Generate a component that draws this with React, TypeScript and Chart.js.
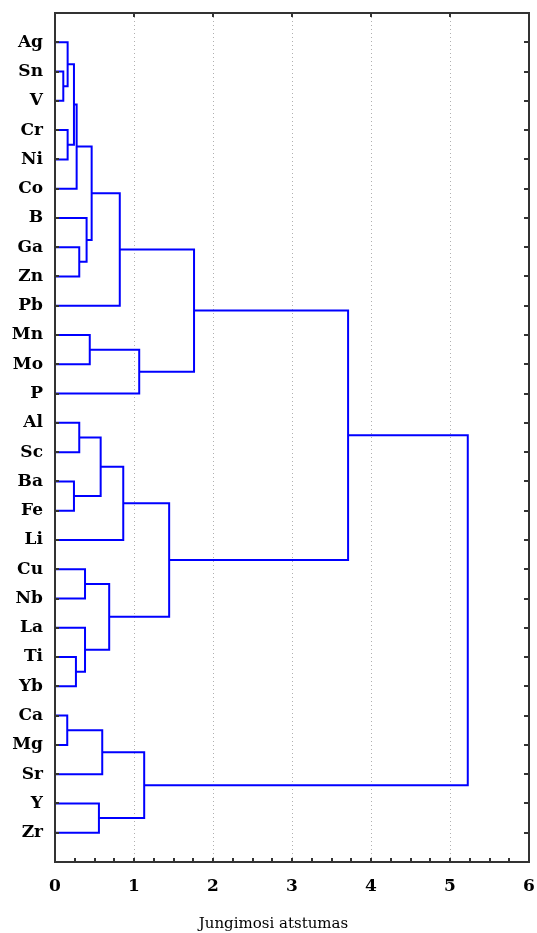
import React, { useEffect, useRef } from "react";
import { Chart, registerables } from "chart.js";

Chart.register(...registerables);

// Leaf order (top to bottom)
const leaves = ["Ag", "Sn", "V", "Cr", "Ni", "Co", "B", "Ga", "Zn", "Pb", "Mn", "Mo", "P", "Al", "Sc", "Ba", "Fe", "Li", "Cu", "Nb", "La", "Ti", "Yb", "Ca", "Mg", "Sr", "Y", "Zr"];

// Merge steps: child A, child B ("mK" = result of merge K), linkage distance
const mergeLeft = ["Sn", "Ag", "Cr", "m1", "m3", "Ga", "B", "m4", "m7", "Mn", "m9", "m8", "Al", "Ba", "m12", "m14", "Cu", "Ti", "La", "m16", "m15", "m11", "Ca", "m22", "Y", "m23", "m21"];
const mergeRight = ["V", "m0", "Ni", "m2", "Co", "Zn", "m5", "m6", "Pb", "Mo", "P", "m10", "Sc", "Fe", "m13", "Li", "Nb", "Yb", "m17", "m18", "m19", "m20", "Mg", "Sr", "Zr", "m24", "m25"];
const mergeDistance = [0.105, 0.16, 0.16, 0.24, 0.274, 0.307, 0.4, 0.464, 0.82, 0.44, 1.066, 1.76, 0.307, 0.24, 0.578, 0.864, 0.38, 0.265, 0.38, 0.686, 1.445, 3.71, 0.155, 0.598, 0.556, 1.129, 5.225];

const xTickValues = [0, 1, 2, 3, 4, 5, 6];
const xTitle = "Jungimosi atstumas";

const LINK_COLOR = "#0000ff";
const FRAME_COLOR = "#333333";

function buildLinks() {
  const pos: Record<string, { y: number; h: number }> = {};
  leaves.forEach((name, i) => {
    pos[name] = { y: i, h: 0 };
  });
  const links: { x: number; y: number }[][] = [];
  mergeDistance.forEach((d, i) => {
    const a = pos[mergeLeft[i]];
    const b = pos[mergeRight[i]];
    links.push([
      { x: a.h, y: a.y },
      { x: d, y: a.y },
      { x: d, y: b.y },
      { x: b.h, y: b.y },
    ]);
    pos["m" + i] = { y: (a.y + b.y) / 2, h: d };
  });
  return links;
}

const framePlugin = {
  id: "frame",
  afterDraw(chart: any) {
    const { ctx, chartArea: a, scales } = chart;
    const x = scales.x;
    const y = scales.y;
    ctx.save();
    ctx.strokeStyle = FRAME_COLOR;
    ctx.lineWidth = 2;
    ctx.strokeRect(a.left, a.top, a.right - a.left, a.bottom - a.top);
    ctx.beginPath();
    leaves.forEach((_, i) => {
      const py = Math.round(y.getPixelForValue(i));
      ctx.moveTo(a.right, py);
      ctx.lineTo(a.right - 5, py);
      ctx.moveTo(a.left, py);
      ctx.lineTo(a.left + 4, py);
    });
    for (let v = 0; v <= 6.0001; v += 0.25) {
      const px = Math.round(x.getPixelForValue(v));
      ctx.moveTo(px, a.bottom);
      ctx.lineTo(px, a.bottom - 4);
    }
    xTickValues.forEach((v) => {
      const px = Math.round(x.getPixelForValue(v));
      ctx.moveTo(px, a.top);
      ctx.lineTo(px, a.top + 4);
    });
    ctx.stroke();
    ctx.restore();
  },
};

const zeroPad = (scale: any) => {
  scale.paddingTop = 0;
  scale.paddingBottom = 0;
  scale.paddingLeft = 0;
  scale.paddingRight = 0;
};

export default function App() {
  const ref = useRef<HTMLCanvasElement | null>(null);

  useEffect(() => {
    document.body.style.margin = "0";
    const links = buildLinks();
    const chart = new Chart(ref.current as HTMLCanvasElement, {
      type: "scatter",
      data: {
        datasets: links.map((pts) => ({
          data: pts,
          showLine: true,
          borderColor: LINK_COLOR,
          backgroundColor: LINK_COLOR,
          borderWidth: 2,
          pointRadius: 0,
          pointHoverRadius: 0,
          tension: 0,
          clip: false as any,
        })),
      },
      options: {
        responsive: false,
        animation: false,
        events: [],
        layout: { padding: { top: 13, left: 10, right: 0, bottom: 0 } },
        plugins: {
          legend: { display: false },
          tooltip: { enabled: false },
          title: {
            display: true,
            position: "bottom",
            text: xTitle,
            color: "#000",
            font: { family: "DejaVu Serif", size: 15, weight: "normal" },
            padding: { top: 0, bottom: 0 },
          },
        },
        scales: {
          x: {
            type: "linear",
            min: 0,
            max: 6,
            afterBuildTicks: (scale: any) => {
              scale.ticks = xTickValues.map((v) => ({ value: v }));
            },
            afterFit: (scale: any) => {
              scale.height = 53;
              zeroPad(scale);
            },
            ticks: {
              color: "#000",
              padding: 14,
              font: { family: "DejaVu Serif", size: 17, weight: "bold" },
            },
            grid: {
              color: "#b0b0b0",
              lineWidth: 1,
              drawTicks: false,
            },
            border: { display: false, dash: [1, 3] },
          },
          y: {
            type: "linear",
            reverse: true,
            min: -1,
            max: 28,
            afterBuildTicks: (scale: any) => {
              scale.ticks = leaves.map((_, i) => ({ value: i }));
            },
            afterFit: (scale: any) => {
              scale.width = 45;
              zeroPad(scale);
            },
            ticks: {
              color: "#000",
              padding: 12,
              font: { family: "DejaVu Serif", size: 17, weight: "bold" },
              callback: (v: any) => leaves[Math.round(Number(v))] ?? "",
            },
            grid: { display: false, drawTicks: false },
            border: { display: false },
          },
          yr: {
            type: "linear",
            position: "right",
            display: true,
            min: -1,
            max: 28,
            ticks: { display: false },
            grid: { display: false, drawTicks: false },
            border: { display: false },
            afterFit: (scale: any) => {
              scale.width = 8;
              zeroPad(scale);
            },
          },
        },
      },
      plugins: [framePlugin],
    });
    return () => chart.destroy();
  }, []);

  return (
    <div style={{ width: 537, height: 933 }}>
      <canvas ref={ref} width={537} height={933} style={{ display: "block" }} />
    </div>
  );
}
